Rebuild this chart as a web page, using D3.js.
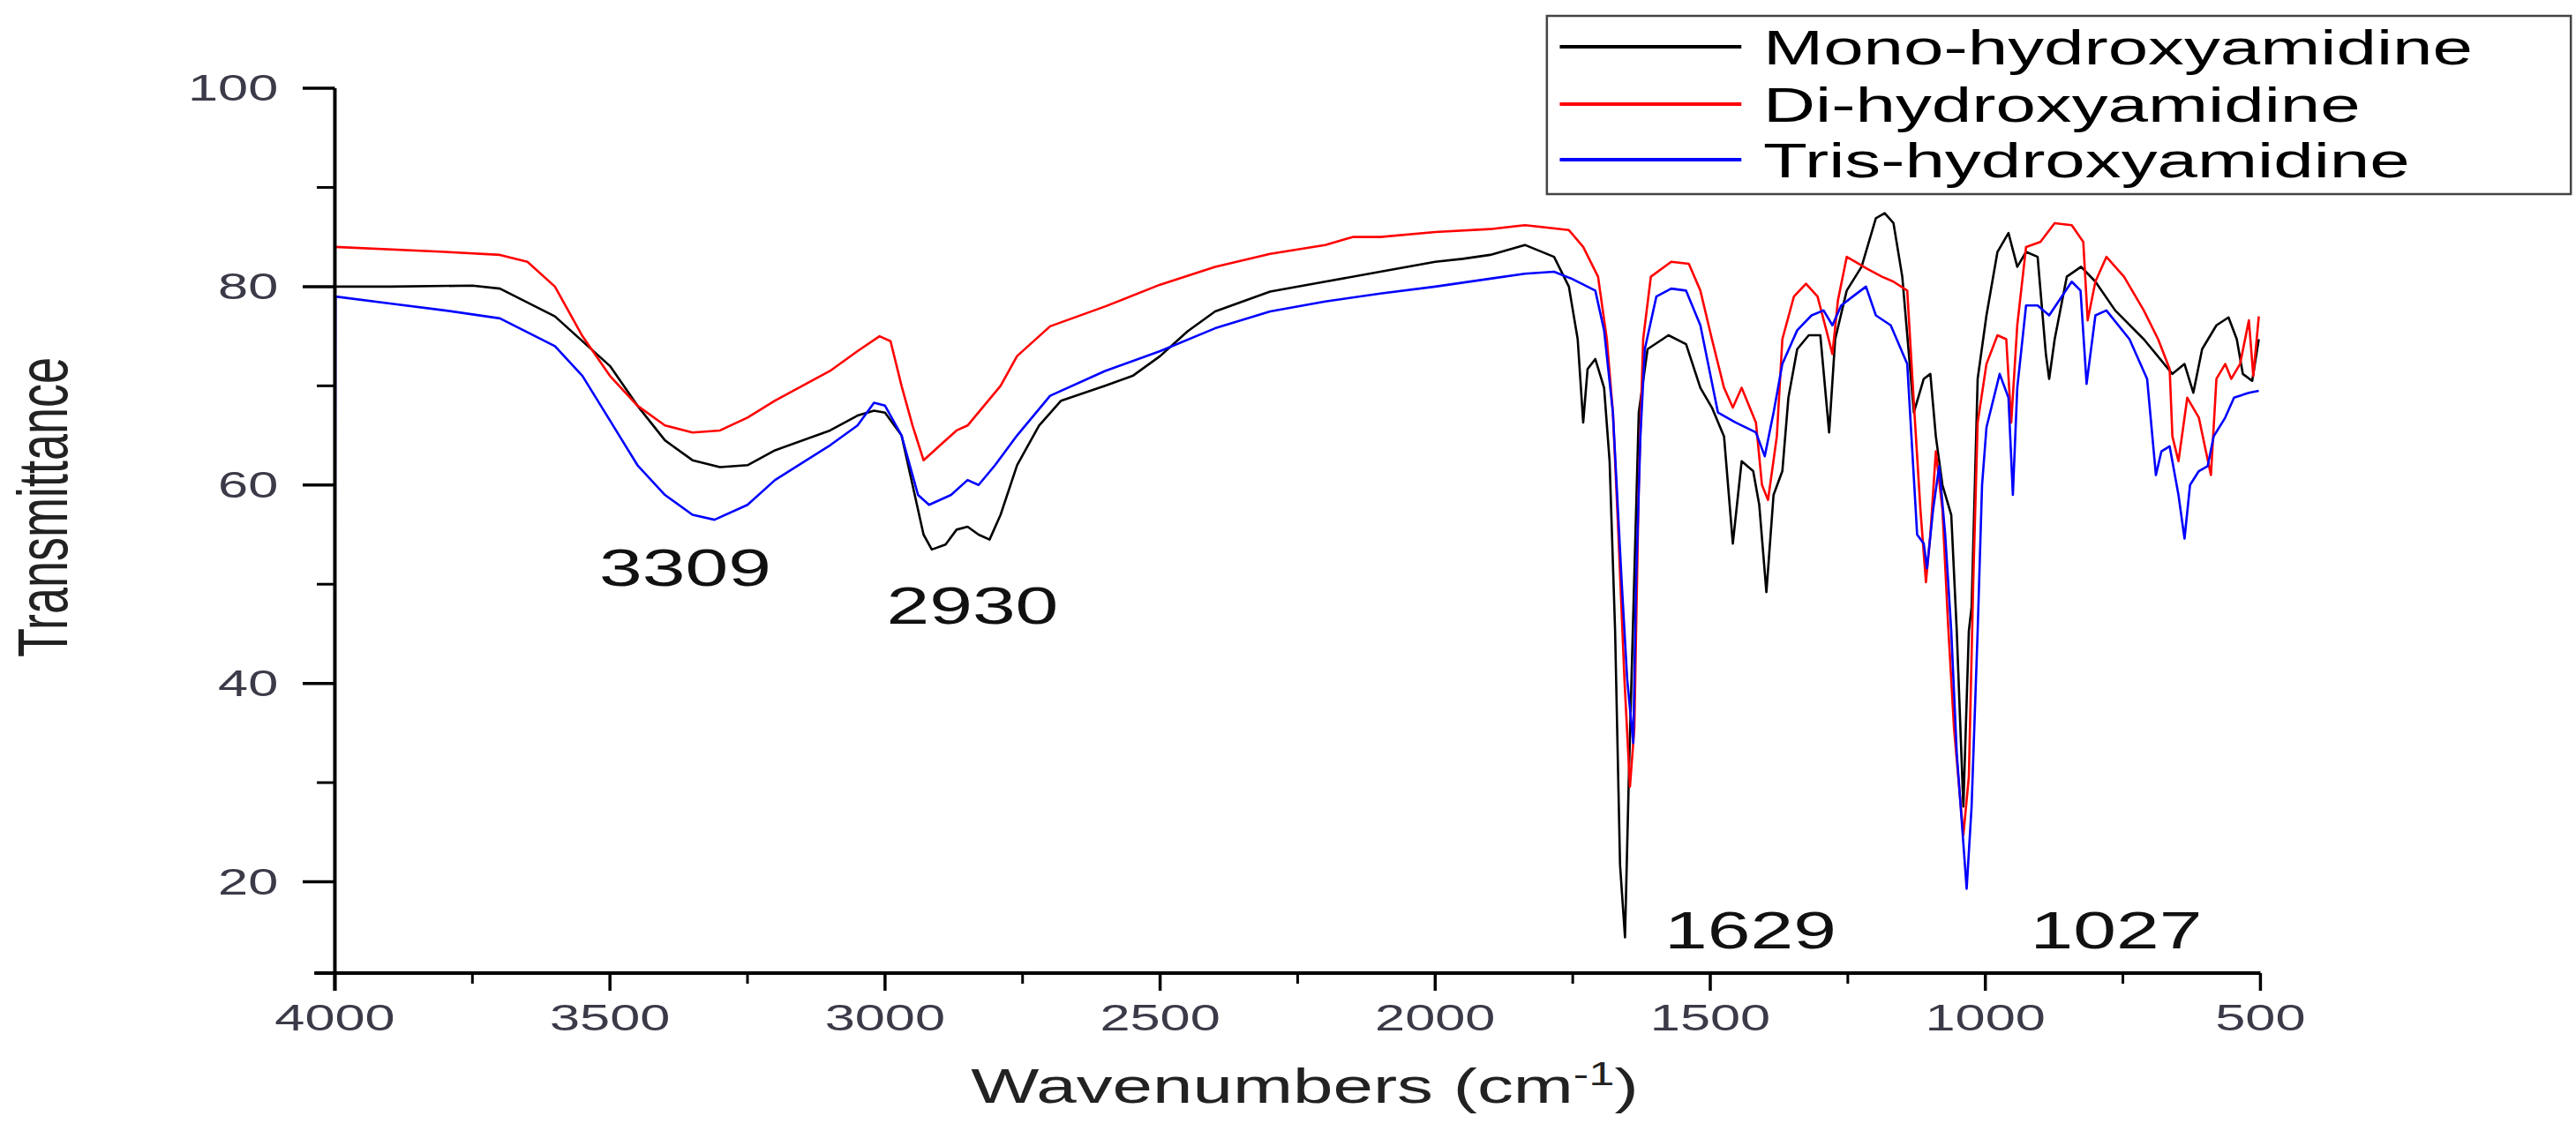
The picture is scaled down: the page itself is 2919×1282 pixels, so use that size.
<!DOCTYPE html>
<html><head><meta charset="utf-8">
<script src="https://cdn.jsdelivr.net/npm/d3@7"></script>
<style>html,body{margin:0;padding:0;background:#fff;overflow:hidden}</style>
</head><body>
<script>
const seriesNames = ["Mono-hydroxyamidine","Di-hydroxyamidine","Tris-hydroxyamidine"];
const seriesColors = ["#000000","#ff0000","#0000ff"];
const xTicks = [4000,3500,3000,2500,2000,1500,1000,500];
const yTicks = [20,40,60,80,100];
const peakLabels = ["3309","2930","1629","1027"];

const mono = [[4000,80],[3900,80],[3750,80.1],[3700,79.8],[3600,77],[3500,72],[3450,68],[3400,64.5],[3350,62.5],[3300,61.8],[3250,62],[3200,63.5],[3100,65.5],[3050,67],[3020,67.5],[3000,67.3],[2970,65],[2950,60],[2930,55],[2915,53.5],[2890,54],[2870,55.5],[2850,55.8],[2830,55],[2810,54.5],[2790,57],[2760,62],[2720,66],[2680,68.5],[2600,70],[2550,71],[2500,73],[2450,75.5],[2400,77.5],[2300,79.5],[2200,80.5],[2100,81.5],[2000,82.5],[1950,82.8],[1900,83.2],[1837,84.2],[1784,83],[1757,80],[1741,74.7],[1731,66.3],[1723,71.7],[1709,72.7],[1693,69.8],[1683,62.4],[1673,45.3],[1664,21.7],[1655,14.4],[1648,30.6],[1630,67.3],[1614,73.7],[1576,75.1],[1544,74.2],[1518,69.8],[1497,67.8],[1475,64.9],[1459,54.1],[1443,62.4],[1422,61.4],[1411,58],[1398,49.2],[1385,59],[1369,61.4],[1358,68.8],[1342,73.7],[1321,75.1],[1300,75.1],[1284,65.3],[1273,74.7],[1252,79.6],[1225,82],[1199,86.9],[1183,87.4],[1167,86.4],[1151,81],[1130,67.3],[1112,70.7],[1100,71.2],[1090,64.9],[1078,60],[1062,57],[1052,45.3],[1040,27.6],[1030,45.3],[1025,47.7],[1014,70.7],[998,77.1],[978,83.5],[958,85.4],[942,82],[926,83.5],[905,83],[890,73.2],[884,70.7],[874,74.7],[852,81],[826,82],[800,80.5],[764,77.6],[712,74.7],[660,71.2],[638,72.2],[622,69.3],[606,73.7],[580,76.1],[558,76.9],[543,74.7],[532,71.2],[515,70.5],[503,74.7]];

const di = [[4000,84],[3800,83.5],[3700,83.2],[3650,82.5],[3600,80],[3550,75],[3500,71],[3450,68],[3400,66],[3350,65.3],[3300,65.5],[3250,66.8],[3200,68.5],[3100,71.5],[3050,73.5],[3010,75],[2990,74.5],[2970,70],[2950,66],[2930,62.5],[2900,64],[2870,65.5],[2850,66],[2820,68],[2790,70],[2760,73],[2700,76],[2600,78],[2500,80.2],[2400,82],[2300,83.3],[2200,84.2],[2150,85],[2100,85],[2000,85.5],[1900,85.8],[1837,86.2],[1757,85.7],[1731,84],[1704,81],[1688,74.7],[1677,67.3],[1667,55],[1656,40.4],[1646,29.6],[1638,35.5],[1630,60],[1622,74.7],[1608,81],[1571,82.5],[1539,82.3],[1518,79.6],[1497,74.7],[1475,69.8],[1459,67.8],[1443,69.8],[1417,66.3],[1406,60],[1395,58.5],[1379,64.9],[1369,74.7],[1348,79],[1326,80.3],[1305,79],[1289,75.6],[1278,73.2],[1268,78.6],[1252,83],[1236,82.5],[1215,81.8],[1188,81],[1167,80.5],[1142,79.6],[1130,68.3],[1118,57.5],[1108,50.2],[1100,55],[1090,63.4],[1078,57.5],[1068,46.2],[1057,35.5],[1040,24.7],[1030,30.6],[1022,50.2],[1014,66.3],[998,72.2],[978,75.1],[962,74.7],[953,66.3],[942,76.1],[926,84],[900,84.5],[874,86.4],[843,86.2],[822,84.5],[814,76.6],[800,80.5],[780,83],[748,81],[712,77.6],[686,74.7],[665,71.7],[660,64.9],[649,62.4],[633,68.8],[612,66.8],[590,61],[580,70.7],[564,72.2],[553,70.7],[537,72.2],[521,76.6],[513,71],[503,77]];

const tris = [[4000,40],[3999,79],[3900,78.3],[3800,77.6],[3700,76.8],[3600,74],[3550,71],[3500,66.5],[3450,62],[3400,59],[3350,57],[3310,56.5],[3250,58],[3200,60.5],[3100,64],[3050,66],[3020,68.3],[3000,68],[2970,65],[2940,59],[2920,58],[2880,59],[2850,60.5],[2830,60],[2800,62],[2760,65],[2700,69],[2600,71.5],[2500,73.5],[2400,75.8],[2300,77.5],[2200,78.5],[2100,79.3],[2000,80],[1900,80.8],[1837,81.3],[1784,81.5],[1752,80.8],[1709,79.6],[1693,75.6],[1677,67.3],[1661,50.2],[1651,40.4],[1640,34],[1635,50],[1627,64.9],[1619,73.7],[1598,79],[1571,79.8],[1544,79.6],[1518,76.1],[1486,67.3],[1454,66.3],[1417,65.3],[1401,62.9],[1385,67.3],[1369,72.2],[1342,75.6],[1316,77.1],[1294,77.6],[1278,76.1],[1262,78.1],[1241,79],[1217,80],[1199,77.1],[1172,76.1],[1142,72.2],[1124,55],[1112,54.1],[1106,51.6],[1095,57.5],[1084,61.9],[1073,55],[1062,45.3],[1052,33],[1034,19.3],[1025,27.6],[1014,45.3],[1006,60],[998,65.8],[974,71.2],[958,68.8],[950,59],[942,69.8],[926,78.1],[905,78.1],[884,77.1],[843,80.5],[827,79.6],[816,70.2],[800,77.1],[780,77.6],[738,74.7],[706,70.7],[690,61],[680,63.4],[665,63.9],[649,59],[638,54.6],[628,60],[612,61.4],[596,61.9],[585,64.9],[564,66.8],[548,68.8],[521,69.3],[503,69.5]];

const seriesData = [mono, di, tris];

const W = 2000, H = 1282;
const svg = d3.select("body").append("svg")
  .attr("width", 2919).attr("height", 1282)
  .attr("viewBox", `0 0 ${W} ${H}`).attr("preserveAspectRatio","none")
  .style("display","block");

const x = d3.scaleLinear().domain([4000,500]).range([260,1755]);
const y = d3.scaleLinear().domain([10.8,100]).range([1103,100]);

const line = d3.line().x(d=>x(d[0])).y(d=>y(d[1]));
seriesData.forEach((s,i)=>{
  svg.append("path").datum(s).attr("d",line).attr("fill","none")
    .attr("stroke",seriesColors[i]).attr("stroke-width",2.6)
    .attr("vector-effect","non-scaling-stroke").attr("stroke-linejoin","round");
});

const ax = svg.append("g").attr("stroke","#000");
ax.append("line").attr("x1",x(4000)-16).attr("x2",x(500)).attr("y1",y(10.8)).attr("y2",y(10.8))
  .attr("stroke-width",4).attr("vector-effect","non-scaling-stroke");
ax.append("line").attr("x1",x(4000)).attr("x2",x(4000)).attr("y1",y(100)).attr("y2",y(10.8)+20)
  .attr("stroke-width",4).attr("vector-effect","non-scaling-stroke");
const xMinor = d3.range(3750,500,-500);
xTicks.forEach(t=>ax.append("line").attr("x1",x(t)).attr("x2",x(t)).attr("y1",y(10.8)).attr("y2",y(10.8)+20).attr("stroke-width",3.5).attr("vector-effect","non-scaling-stroke"));
xMinor.forEach(t=>ax.append("line").attr("x1",x(t)).attr("x2",x(t)).attr("y1",y(10.8)).attr("y2",y(10.8)+12).attr("stroke-width",3).attr("vector-effect","non-scaling-stroke"));
yTicks.forEach(t=>ax.append("line").attr("x1",x(4000)-25).attr("x2",x(4000)).attr("y1",y(t)).attr("y2",y(t)).attr("stroke-width",3.5).attr("vector-effect","non-scaling-stroke"));
[30,50,70,90].forEach(t=>ax.append("line").attr("x1",x(4000)-14).attr("x2",x(4000)).attr("y1",y(t)).attr("y2",y(t)).attr("stroke-width",3).attr("vector-effect","non-scaling-stroke"));

const font = "Arial, 'Liberation Sans', sans-serif";
svg.selectAll(".xl").data(xTicks).join("text")
  .attr("x",d=>x(d)).attr("y",1168).attr("text-anchor","middle")
  .attr("font-family",font).attr("font-size",42).attr("fill","#3a3a48").text(d=>d);
svg.selectAll(".yl").data(yTicks).join("text")
  .attr("x",x(4000)-44).attr("y",d=>y(d)+14).attr("text-anchor","end")
  .attr("font-family",font).attr("font-size",42).attr("fill","#3a3a48").text(d=>d);

const xt = svg.append("text").attr("x",1013).attr("y",1250).attr("text-anchor","middle")
  .attr("font-family",font).attr("font-size",56).attr("fill","#222");
xt.append("tspan").text("Wavenumbers (cm");
xt.append("tspan").attr("dy",-20).attr("font-size",36).text("-1");
xt.append("tspan").attr("dy",20).text(")");

svg.append("text").attr("transform","translate(52,575) rotate(-90)").attr("text-anchor","middle")
  .attr("font-family",font).attr("font-size",54).attr("fill","#222").text("Transmittance");

const labelPos = [[532,664],[755,707],[1359,1075],[1643,1075]];
peakLabels.forEach((p,i)=>{
  svg.append("text").attr("x",labelPos[i][0]).attr("y",labelPos[i][1]).attr("text-anchor","middle")
    .attr("font-family",font).attr("font-size",60).attr("fill","#111").text(p);
});

const lg = svg.append("g");
lg.append("rect").attr("x",1201).attr("y",18).attr("width",795).attr("height",202)
  .attr("fill","#fff").attr("stroke","#444").attr("stroke-width",2.5).attr("vector-effect","non-scaling-stroke");
seriesNames.forEach((n,i)=>{
  const yy = [53,118,181][i];
  lg.append("line").attr("x1",1211).attr("x2",1352).attr("y1",yy).attr("y2",yy)
    .attr("stroke",seriesColors[i]).attr("stroke-width",4).attr("vector-effect","non-scaling-stroke");
  lg.append("text").attr("x",1369).attr("y",yy+20).attr("font-family",font).attr("font-size",56)
    .attr("fill","#000").text(n);
});
</script>
</body></html>
